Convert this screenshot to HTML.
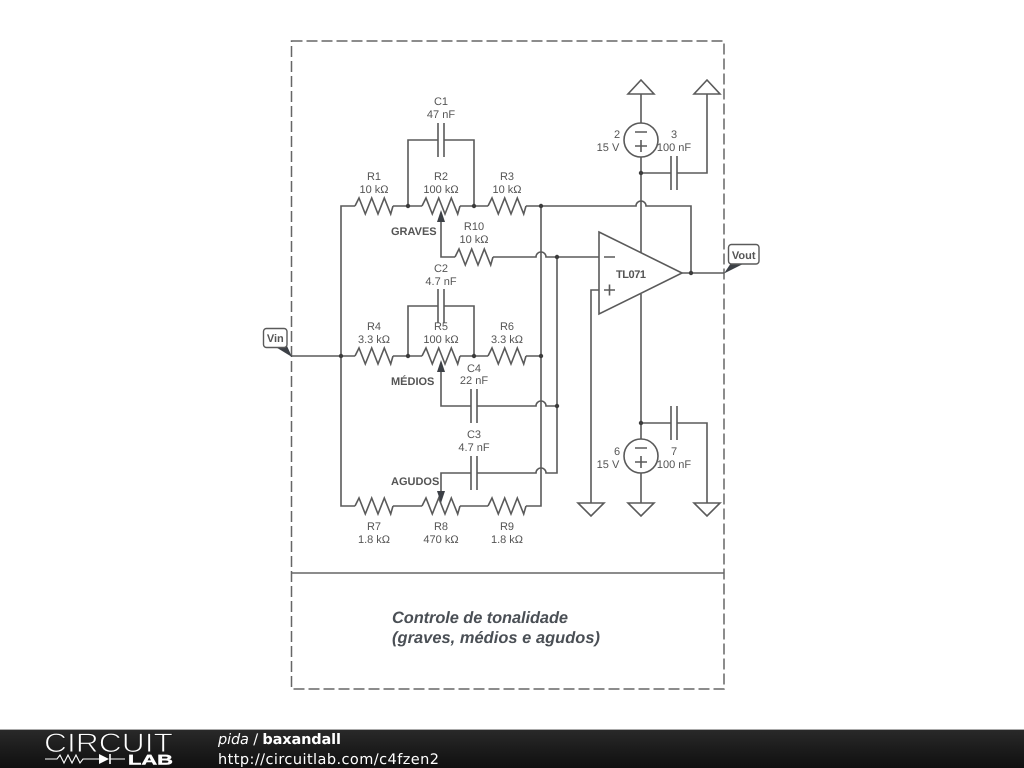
<!DOCTYPE html>
<html><head><meta charset="utf-8"><title>baxandall</title>
<style>
html,body{margin:0;padding:0;background:#fff;width:1024px;height:768px;overflow:hidden}
svg{display:block;text-rendering:geometricPrecision}
.l{font:11px "Liberation Sans",sans-serif;fill:#555;text-anchor:middle}
.b{font:bold 11px "Liberation Sans",sans-serif;fill:#555}
.t{font:italic bold 16.4px "Liberation Sans",sans-serif;fill:#4a4f55}
.w{fill:none;stroke:#5a5a5a;stroke-width:1.6}
.n{fill:#3c3c3c}
.a{fill:#3c4046}
.f{font:14.5px "DejaVu Sans",sans-serif;fill:#fff}
</style></head><body>
<svg width="1024" height="768" viewBox="0 0 1024 768" xmlns="http://www.w3.org/2000/svg">
<defs>
<linearGradient id="g" x1="0" y1="0" x2="0" y2="1"><stop offset="0" stop-color="#2a2a2a"/><stop offset=".5" stop-color="#1c1c1c"/><stop offset="1" stop-color="#101010"/></linearGradient>
<g id="r"><path class="w" d="M-19,0 L-15,-8 L-8.7,8 L-2.3,-8 L4,8 L10.3,-8 L16.7,8 L19,0"/></g>
<g id="c"><path class="w" d="M-3,-17V17M3,-17V17"/></g>
<g id="u"><path class="w" d="M-13,0H13L0,-14Z"/></g>
<g id="d"><path class="w" d="M-13,0H13L0,13Z"/></g>
</defs>

<!-- frame -->
<rect x="291.5" y="41" width="432.5" height="648" fill="none" stroke="#666" stroke-width="1.5" stroke-dasharray="11 4"/>
<path d="M291.5,573H724" stroke="#666" stroke-width="1.5" fill="none"/>

<!-- wires -->
<path class="w" d="M291,356H355M393,356H422M460,356H488M526,356H541"/>
<path class="w" d="M355,206H341V506H355M393,206H422M460,206H488M526,206H636A5,5 0 0 1 646,206H691V273"/>
<path class="w" d="M393,506H422M460,506H488M526,506H541V206"/>
<path class="w" d="M408,206V140H438M444,140H474V206"/>
<path class="w" d="M408,356V306H438M444,306H474V356"/>
<path class="w" d="M441,220V257H455M493,257H536A5,5 0 0 1 546,257H599"/>
<path class="w" d="M441,370V406H471M477,406H536A5,5 0 0 1 546,406H557"/>
<path class="w" d="M441,493V473H471M477,473H536A5,5 0 0 1 546,473H557V257"/>
<path class="w" d="M599,290H591V503"/>
<path class="w" d="M641,94V123M641,157V253M641,294V439M641,473V503"/>
<path class="w" d="M641,173H671M677,173H707V94"/>
<path class="w" d="M641,423H671M677,423H707V503"/>
<path class="w" d="M682,273H724"/>

<!-- resistors -->
<use href="#r" x="374" y="206"/><use href="#r" x="441" y="206"/><use href="#r" x="507" y="206"/>
<use href="#r" x="474" y="257"/>
<use href="#r" x="374" y="356"/><use href="#r" x="441" y="356"/><use href="#r" x="507" y="356"/>
<use href="#r" x="374" y="506"/><use href="#r" x="441" y="506"/><use href="#r" x="507" y="506"/>

<!-- capacitors -->
<use href="#c" x="441" y="140"/><use href="#c" x="441" y="306"/>
<use href="#c" x="474" y="406"/><use href="#c" x="474" y="473"/>
<use href="#c" x="674" y="173"/><use href="#c" x="674" y="423"/>

<!-- wiper arrows -->
<path class="a" d="M441,210L445,222H437Z"/>
<path class="a" d="M441,360L445,372H437Z"/>
<path class="a" d="M441,503L445,491H437Z"/>

<!-- nodes -->
<g class="n">
<circle cx="408" cy="206" r="2.2"/><circle cx="474" cy="206" r="2.2"/><circle cx="541" cy="206" r="2.2"/>
<circle cx="341" cy="356" r="2.2"/><circle cx="408" cy="356" r="2.2"/><circle cx="474" cy="356" r="2.2"/><circle cx="541" cy="356" r="2.2"/>
<circle cx="557" cy="257" r="2.2"/><circle cx="557" cy="406" r="2.2"/>
<circle cx="641" cy="173" r="2.2"/><circle cx="641" cy="423" r="2.2"/><circle cx="691" cy="273" r="2.2"/>
</g>

<!-- opamp -->
<path class="w" d="M599,232L682,273L599,314Z"/>
<path class="w" d="M604,257H615M604,290H615M609.5,284.500V295.500"/>

<!-- sources -->
<circle class="w" cx="641" cy="140" r="17"/>
<path class="w" d="M635,132H647M635,146H647M641,140V152"/>
<circle class="w" cx="641" cy="456" r="17"/>
<path class="w" d="M635,448H647M635,462H647M641,456V468"/>

<!-- rails -->
<use href="#u" x="641" y="94"/><use href="#u" x="707" y="94"/>
<use href="#d" x="591" y="503"/><use href="#d" x="641" y="503"/><use href="#d" x="707" y="503"/>

<!-- net labels -->
<path class="a" d="M274,346H287L292,357Z"/>
<rect x="263.500" y="328.500" width="23.500" height="19" rx="3" fill="#fff" stroke="#5a5a5a" stroke-width="1.4"/>
<text class="b" x="275.300" y="342" text-anchor="middle">Vin</text>
<path class="a" d="M731,263H745L724,273.500Z"/>
<rect x="728.500" y="244.500" width="30.500" height="19.500" rx="3" fill="#fff" stroke="#5a5a5a" stroke-width="1.4"/>
<text class="b" x="743.700" y="259" text-anchor="middle">Vout</text>

<!-- labels -->
<text class="l" x="441" y="105">C1</text><text class="l" x="441" y="118">47 nF</text>
<text class="l" x="374" y="180">R1</text><text class="l" x="374" y="193">10 kΩ</text>
<text class="l" x="441" y="180">R2</text><text class="l" x="441" y="193">100 kΩ</text>
<text class="l" x="507" y="180">R3</text><text class="l" x="507" y="193">10 kΩ</text>
<text class="b" x="391" y="235">GRAVES</text>
<text class="l" x="474" y="230">R10</text><text class="l" x="474" y="243">10 kΩ</text>
<text class="l" x="441" y="272">C2</text><text class="l" x="441" y="285">4.7 nF</text>
<text class="l" x="374" y="330">R4</text><text class="l" x="374" y="343">3.3 kΩ</text>
<text class="l" x="441" y="330">R5</text><text class="l" x="441" y="343">100 kΩ</text>
<text class="l" x="507" y="330">R6</text><text class="l" x="507" y="343">3.3 kΩ</text>
<text class="b" x="391" y="385">MÉDIOS</text>
<text class="l" x="474" y="372">C4</text><text class="l" x="474" y="384">22 nF</text>
<text class="l" x="474" y="438">C3</text><text class="l" x="474" y="451">4.7 nF</text>
<text class="b" x="391" y="485">AGUDOS</text>
<text class="l" x="374" y="530">R7</text><text class="l" x="374" y="543">1.8 kΩ</text>
<text class="l" x="441" y="530">R8</text><text class="l" x="441" y="543">470 kΩ</text>
<text class="l" x="507" y="530">R9</text><text class="l" x="507" y="543">1.8 kΩ</text>
<text class="b" x="616" y="278" textLength="30">TL071</text>
<text class="l" x="617" y="138">2</text><text class="l" x="608" y="151">15 V</text>
<text class="l" x="674" y="138">3</text><text class="l" x="674" y="151">100 nF</text>
<text class="l" x="617" y="455">6</text><text class="l" x="608" y="468">15 V</text>
<text class="l" x="674" y="455">7</text><text class="l" x="674" y="468">100 nF</text>
<text class="t" x="392" y="623" textLength="176">Controle de tonalidade</text>
<text class="t" x="392" y="643" textLength="208">(graves, médios e agudos)</text>

<!-- footer -->
<rect x="0" y="729" width="1024" height="39" fill="url(#g)"/>
<rect x="0" y="729" width="1024" height="1" fill="#aaa"/>
<text x="44" y="752" font-family="Liberation Sans,sans-serif" font-size="27" fill="#fff" stroke="#1f1f1f" stroke-width=".9" textLength="129" lengthAdjust="spacingAndGlyphs">CIRCUIT</text>
<path d="M45,759H57L60,755L64,763L68,755L72,763L76,755L80,763L83,759H99M110,759H125" fill="none" stroke="#fff" stroke-width="1.1"/>
<path d="M99,754L109,759L99,764Z" fill="#fff"/><path d="M110,754V764" stroke="#fff" stroke-width="1.6"/>
<text x="128" y="764.500" font-family="Liberation Sans,sans-serif" font-weight="bold" font-size="14" fill="#fff" stroke="#fff" stroke-width=".4" textLength="45" lengthAdjust="spacingAndGlyphs">LAB</text>
<text class="f" x="218" y="744" textLength="123"><tspan font-style="italic">pida</tspan> / <tspan font-weight="bold">baxandall</tspan></text>
<text class="f" x="218" y="764" textLength="221">http://circuitlab.com/c4fzen2</text>
</svg>
</body></html>
